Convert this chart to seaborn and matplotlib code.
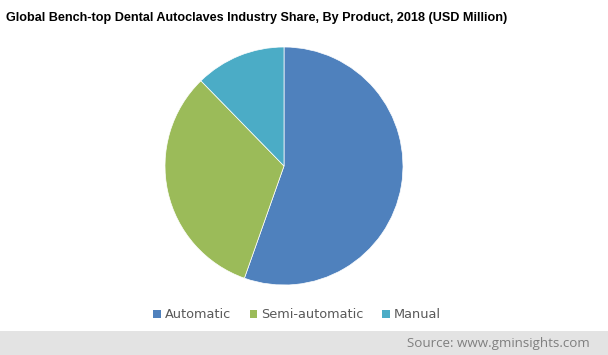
import matplotlib
matplotlib.use("Agg")
import matplotlib.pyplot as plt
import matplotlib.patches as mpatches
import seaborn as sns

categories = ["Automatic", "Semi-automatic", "Manual"]
shares = [55.4, 32.3, 12.3]
colors = ["#4f81bd", "#9bbb59", "#4bacc6"]
title = "Global Bench-top Dental Autoclaves Industry Share, By Product, 2018 (USD Million)"
source = "Source: www.gminsights.com"

sns.set_theme(style="white")
plt.rcParams["font.family"] = ["DejaVu Sans"]

W, H = 608, 355
fig = plt.figure(figsize=(W / 100, H / 100), dpi=100)
fig.patch.set_facecolor("white")

# footer band
fig.add_artist(mpatches.Rectangle((0, 0), 1, 24 / H, transform=fig.transFigure,
                                  facecolor="#e3e3e3", edgecolor="none", zorder=0))

cx, cy, r = 284, 166, 119
ax = fig.add_axes([(cx - r) / W, (H - cy - r) / H, 2 * r / W, 2 * r / H])
ax.pie(shares, colors=colors, startangle=90, counterclock=False,
       wedgeprops=dict(edgecolor="white", linewidth=0.5))
ax.set_xlim(-1, 1)
ax.set_ylim(-1, 1)
ax.set_aspect("equal")
ax.axis("off")

fig.text(6 / W, 1 - 18 / H, title, fontsize=9.1, fontweight="bold",
         family=["Liberation Sans"], color="#000000", va="center", ha="left")

handles = [mpatches.Patch(facecolor=c, edgecolor="none") for c in colors]
fig.legend(handles, categories, loc="center", bbox_to_anchor=(297 / W, 1 - 315 / H),
           ncol=3, frameon=False, fontsize=9.3, handlelength=0.6, handleheight=0.6,
           handletextpad=0.3, columnspacing=1.45, labelcolor="#595959")

fig.text(590 / W, 12 / H, source, fontsize=9.6, family=["Open Sans"],
         color="#7f7f7f", ha="right", va="center")

fig.savefig("out.png", dpi=100)
